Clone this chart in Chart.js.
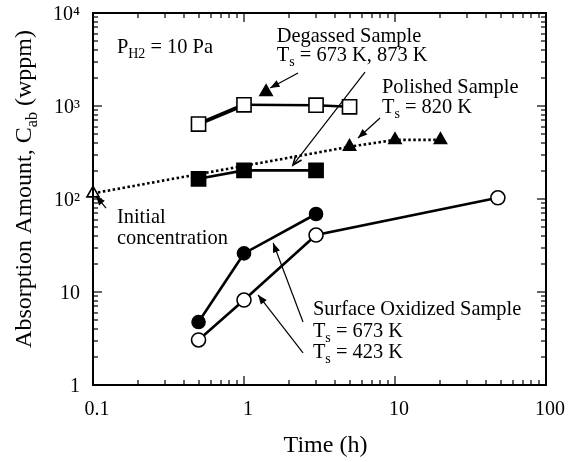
<!DOCTYPE html>
<html>
<head>
<meta charset="utf-8">
<script src="https://cdn.jsdelivr.net/npm/chart.js@4"></script>
<style>
  html, body { margin: 0; padding: 0; background: #fff; }
</style>
</head>
<body>
<canvas id="chart" width="570" height="462"></canvas>
<script>
// Hydrogen absorption vs exposure time, log-log, P_H2 = 10 Pa

// ── data (time in h, C_ab in wppm) ──
const degassedTime = [0.5, 1, 3, 5];
const degassedC    = [640, 1030, 1020, 980];
const degassedHotTime = [1.4];
const degassedHotC    = [1420];
const degassedLowTime = [0.5, 1, 3];
const degassedLowC    = [165, 203, 203];
const polishedTime = [0.1, 5, 10, 20];
const polishedC    = [115, 365, 432, 432];
const oxid673Time = [0.5, 1, 3];
const oxid673C    = [4.75, 26, 69];
const oxid423Time = [0.5, 1, 3, 48];
const oxid423C    = [3.05, 8.2, 41, 103];

// ── ticks ──
const xMajorTicks = [0.1, 1, 10, 100];
const xTickLabels = ['0.1', '1', '10', '100'];
const yMajorTicks = [1, 10, 100, 1000, 10000];
const yTickLabels = ['1', '10', '10\u00B2', '10\u00B3', '10\u2074'];

const FONT = '"Liberation Serif", "DejaVu Serif", serif';

function pts(xs, ys) {
    return xs.map((v, i) => ({ x: v, y: ys[i] }));
}

// majors plus 2..9 per decade
function logTicks(majors) {
    const out = [];
    majors.forEach((m, i) => {
        out.push({ value: m, major: true });
        if (i < majors.length - 1) {
            for (let k = 2; k <= 9; k++) out.push({ value: m * k, major: false });
        }
    });
    return out;
}

// ── annotations (positions in data coordinates) ──
const notes = [
    { x: 0.144, y: 3715, parts: [['P'], ['H2', 1], [' = 10 Pa']] },
    { x: 1.65, y: 4875, parts: [['Degassed Sample']] },
    { x: 1.65, y: 3050, parts: [['T'], ['s', 1], [' = 673 K, 873 K']] },
    { x: 8.2, y: 1380, parts: [['Polished Sample']] },
    { x: 8.2, y: 841, parts: [['T'], ['s', 1], [' = 820 K']] },
    { x: 0.144, y: 55.2, parts: [['Initial']] },
    { x: 0.144, y: 32.8, parts: [['concentration']] },
    { x: 2.86, y: 5.66, parts: [['Surface Oxidized Sample']] },
    { x: 2.86, y: 3.28, parts: [['T'], ['s', 1], [' = 673 K']] },
    { x: 2.86, y: 1.95, parts: [['T'], ['s', 1], [' = 423 K']] },
];

const arrows = [
    { from: [2.28, 2265], to: [1.49, 1563], head: 'fill' },
    { from: [6.33, 2320], to: [2.11, 232], head: 'open' },
    { from: [7.96, 743], to: [5.69, 453], head: 'fill' },
    { from: [0.122, 80], to: [0.1047, 108], head: 'fill' },
    { from: [2.46, 4.75], to: [1.56, 33.6], head: 'fill' },
    { from: [2.46, 2.21], to: [1.24, 9.29], head: 'fill' },
];

function drawRich(ctx, parts, x, y) {
    let cx = x;
    parts.forEach(([t, sub]) => {
        ctx.font = (sub ? '14px ' : '20.4px ') + FONT;
        ctx.fillText(t, cx, sub ? y + 5 : y);
        cx += ctx.measureText(t).width;
    });
}

function richWidth(ctx, parts, big, small) {
    let w = 0;
    parts.forEach(([t, sub]) => {
        ctx.font = (sub ? small : big) + 'px ' + FONT;
        w += ctx.measureText(t).width;
    });
    return w;
}

// inward ticks on all four sides + frame
const frameTicks = {
    id: 'frameTicks',
    afterDraw(chart) {
        const ctx = chart.ctx;
        const a = chart.chartArea;
        const sx = chart.scales.x, sy = chart.scales.y;
        const L = Math.round(a.left), R = Math.round(a.right);
        const T = Math.round(a.top), B = Math.round(a.bottom);
        ctx.save();
        ctx.fillStyle = '#000';
        // frame
        ctx.fillRect(L - 1, T - 1, R - L + 2, 2);
        ctx.fillRect(L - 1, B - 1, R - L + 2, 2);
        ctx.fillRect(L - 1, T - 1, 2, B - T + 2);
        ctx.fillRect(R - 1, T - 1, 2, B - T + 2);
        // ticks
        sx.ticks.forEach(t => {
            const p = Math.round(sx.getPixelForValue(t.value));
            const len = t.major ? 9 : 5;
            ctx.fillRect(p - 0.6, B - len, 1.2, len);
            ctx.fillRect(p - 0.6, T, 1.2, len);
        });
        sy.ticks.forEach(t => {
            const p = Math.round(sy.getPixelForValue(t.value));
            const len = t.major ? 9 : 5;
            ctx.fillRect(L, p - 0.6, len, 1.2);
            ctx.fillRect(R - len, p - 0.6, len, 1.2);
        });
        ctx.restore();
    }
};

const annotate = {
    id: 'annotate',
    afterDraw(chart) {
        const { ctx, scales: { x, y } } = chart;
        ctx.save();
        ctx.fillStyle = '#000';
        ctx.strokeStyle = '#000';
        ctx.setLineDash([]);
        ctx.textBaseline = 'alphabetic';
        ctx.textAlign = 'left';

        notes.forEach(n => drawRich(ctx, n.parts, x.getPixelForValue(n.x), y.getPixelForValue(n.y)));

        ctx.lineWidth = 1.2;
        arrows.forEach(ar => {
            const x0 = x.getPixelForValue(ar.from[0]), y0 = y.getPixelForValue(ar.from[1]);
            const x1 = x.getPixelForValue(ar.to[0]), y1 = y.getPixelForValue(ar.to[1]);
            const ang = Math.atan2(y1 - y0, x1 - x0);
            ctx.beginPath();
            ctx.moveTo(x0, y0);
            ctx.lineTo(x1, y1);
            ctx.stroke();
            const L = 10, W = 0.38;
            const ax = x1 - L * Math.cos(ang - W), ay = y1 - L * Math.sin(ang - W);
            const bx = x1 - L * Math.cos(ang + W), by = y1 - L * Math.sin(ang + W);
            ctx.beginPath();
            if (ar.head === 'fill') {
                ctx.moveTo(x1, y1); ctx.lineTo(ax, ay); ctx.lineTo(bx, by);
                ctx.closePath(); ctx.fill();
            } else {
                ctx.moveTo(ax, ay); ctx.lineTo(x1, y1); ctx.lineTo(bx, by);
                ctx.lineWidth = 1.6; ctx.stroke(); ctx.lineWidth = 1.2;
            }
        });

        // axis titles
        const a = chart.chartArea;
        ctx.font = '24px ' + FONT;
        ctx.textAlign = 'center';
        ctx.fillText('Time (h)', (a.left + a.right) / 2 + 6, 452);

        const yParts = [['Absorption Amount, C'], ['ab', 1], [' (wppm)']];
        const w = richWidth(ctx, yParts, 24, 16);
        ctx.translate(31, (a.top + a.bottom) / 2 - 10);
        ctx.rotate(-Math.PI / 2);
        ctx.textAlign = 'left';
        let cx = -w / 2;
        yParts.forEach(([t, sub]) => {
            ctx.font = (sub ? '16px ' : '24px ') + FONT;
            ctx.fillText(t, cx, sub ? 6 : 0);
            cx += ctx.measureText(t).width;
        });
        ctx.restore();
    }
};

const line = { borderColor: '#000', borderWidth: 2.6, pointBorderColor: '#000', pointBorderWidth: 1.6, showLine: true };

new Chart(document.getElementById('chart'), {
    type: 'scatter',
    data: {
        datasets: [
            { ...line, data: pts(polishedTime, polishedC), borderDash: [2.5, 2.5], borderWidth: 2.6,
              pointStyle: 'triangle', pointRadius: 7,
              pointBackgroundColor: ['#fff', '#000', '#000', '#000'], clip: false },
            { ...line, data: pts(degassedTime, degassedC),
              segment: { borderWidth: c => c.p0DataIndex === 0 ? 4 : 2.4 },
              pointStyle: 'rect', pointRadius: 10, pointBackgroundColor: '#fff' },
            { ...line, data: pts(degassedHotTime, degassedHotC), showLine: false,
              pointStyle: 'triangle', pointRadius: 7, pointBackgroundColor: '#000' },
            { ...line, data: pts(degassedLowTime, degassedLowC),
              pointStyle: 'rect', pointRadius: 10, pointBackgroundColor: '#000' },
            { ...line, data: pts(oxid673Time, oxid673C),
              pointStyle: 'circle', pointRadius: 6.5, pointBackgroundColor: '#000' },
            { ...line, data: pts(oxid423Time, oxid423C),
              pointStyle: 'circle', pointRadius: 7, pointBackgroundColor: '#fff' },
        ]
    },
    options: {
        responsive: false,
        animation: false,
        devicePixelRatio: 1,
        layout: { padding: { top: 13, right: 24, left: 0, bottom: 0 } },
        plugins: { legend: { display: false }, tooltip: { enabled: false } },
        scales: {
            x: {
                type: 'logarithmic', min: 0.1, max: 100,
                grid: { display: false, drawTicks: false },
                border: { display: false },
                afterBuildTicks: s => { s.ticks = logTicks(xMajorTicks); },
                afterFit: s => { s.height = 77; s.paddingLeft = 0; s.paddingRight = 0; },
                ticks: {
                    autoSkip: false, maxRotation: 0, padding: 13, labelOffset: 4,
                    color: '#000', font: { family: FONT, size: 20 },
                    callback: v => {
                        const i = xMajorTicks.indexOf(v);
                        return i >= 0 ? xTickLabels[i] : '';
                    }
                }
            },
            y: {
                type: 'logarithmic', min: 1, max: 10000,
                grid: { display: false, drawTicks: false },
                border: { display: false },
                afterBuildTicks: s => { s.ticks = logTicks(yMajorTicks); },
                afterFit: s => { s.width = 93; s.paddingTop = 0; s.paddingBottom = 0; },
                ticks: {
                    autoSkip: false, padding: 13, labelOffset: 2,
                    color: '#000', font: { family: FONT, size: 20 },
                    callback: v => {
                        const i = yMajorTicks.indexOf(v);
                        return i >= 0 ? yTickLabels[i] : '';
                    }
                }
            }
        }
    },
    plugins: [frameTicks, annotate]
});
</script>
</body>
</html>
